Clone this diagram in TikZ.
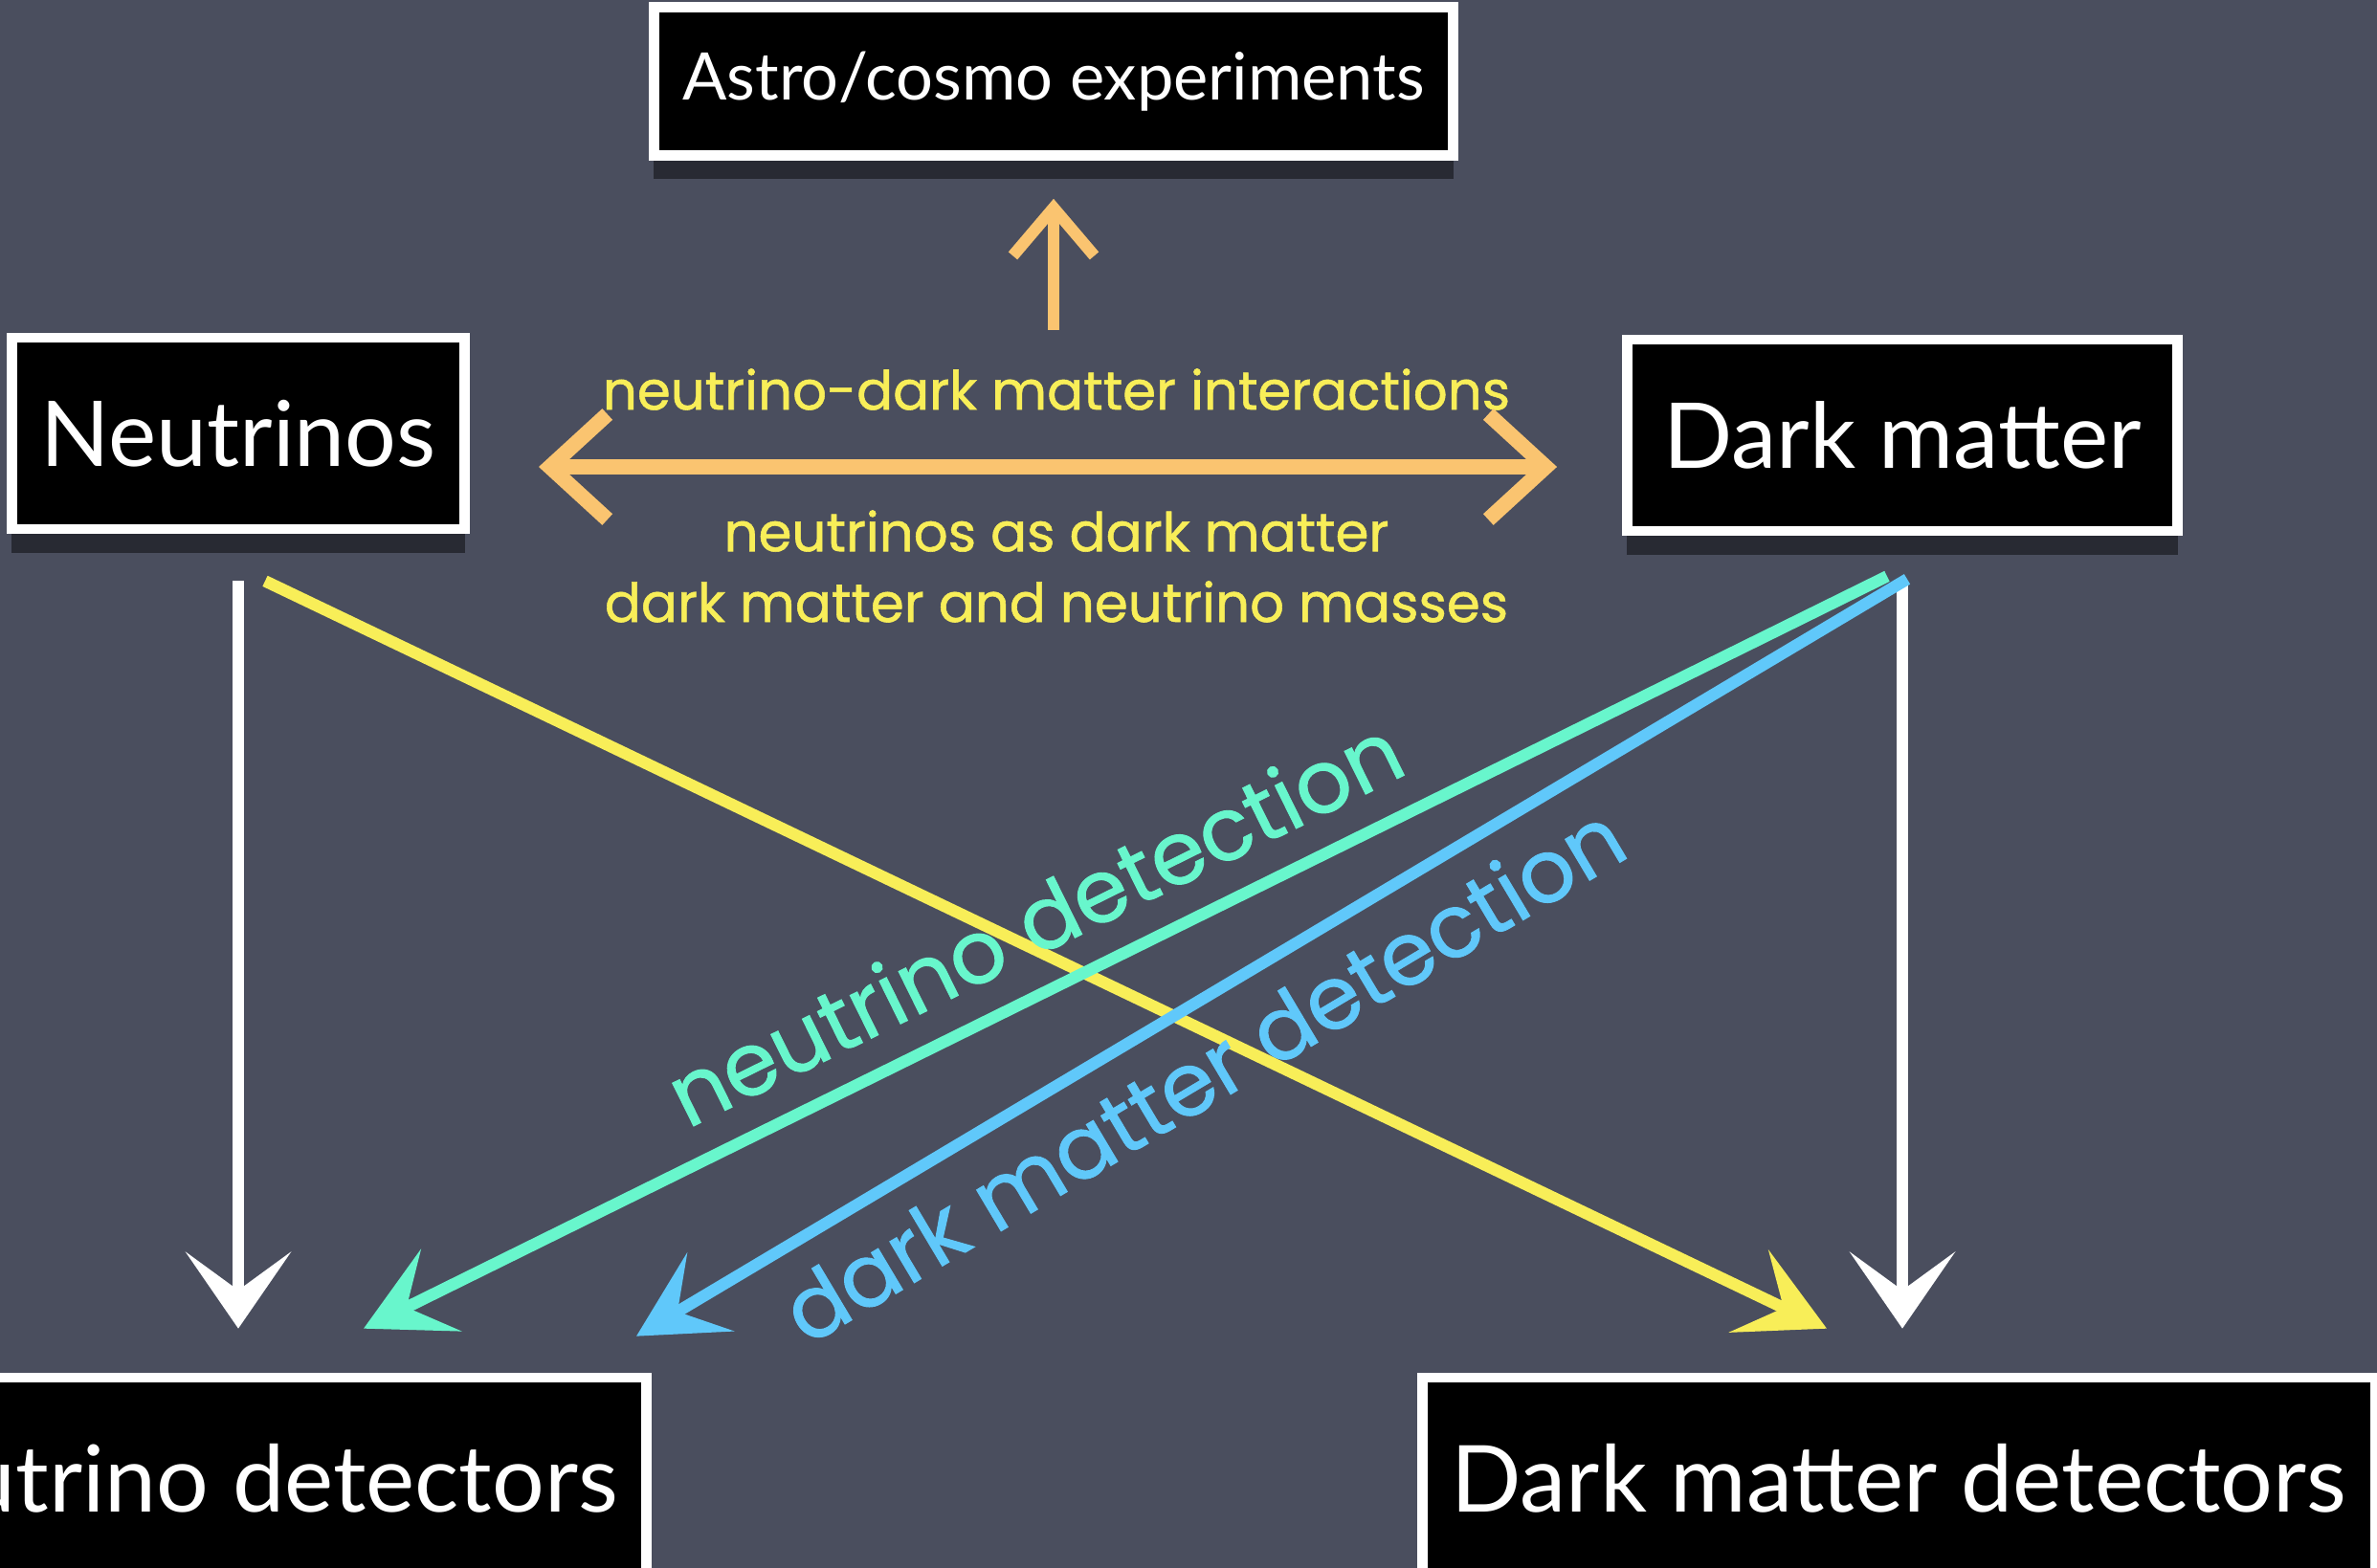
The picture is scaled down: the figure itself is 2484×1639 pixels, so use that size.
\documentclass[tikz,border=0pt]{standalone}
\usepackage{fontspec}
\usepackage{tikz}
\usetikzlibrary{arrows.meta,positioning,calc,shadows}
\newfontfamily\boxfont{Lato}
\newfontfamily\chalkfont[FakeBold=1]{Poppins}
\definecolor{board}{RGB}{74,78,94}
\definecolor{chyel}{RGB}{248,238,88}
\definecolor{chora}{RGB}{250,196,112}
\definecolor{chgrn}{RGB}{104,246,204}
\definecolor{chblu}{RGB}{96,200,250}

\begin{document}
\begin{tikzpicture}[x=0.01cm,y=-0.01cm,
  bx/.style={draw=white,fill=black,line width=3pt,text=white,inner xsep=0.3cm,
    minimum height=2cm,font=\boxfont\fontsize{27}{30}\selectfont,
    drop shadow={shadow xshift=0pt,shadow yshift=-7pt,opacity=0.45,fill=black}},
  lab/.style={font=\chalkfont\fontsize{16}{21}\selectfont,text=chyel,align=center},
  det/.style={font=\chalkfont\fontsize{26}{29}\selectfont,inner sep=0pt},
  wtip/.style={-{Stealth[length=0.8cm,width=1.1cm,inset=0.4cm]}},
  ctip/.style={-{Stealth[length=0.9cm,width=0.95cm,inset=0.4cm]}}]
% --- board ---
\useasboundingbox (0,0) rectangle (2484,1639);
\clip (0,0) rectangle (2484,1639);
\fill[board] (0,0) rectangle (2484,1639);
% --- boxes ---
\node[bx,minimum height=1.55cm,minimum width=8.2cm,font=\boxfont\fontsize{19.5}{23}\selectfont] (astro) at (1101,85) {Astro/cosmo experiments};
\node[bx,minimum width=4.7cm] (nu) at (249,453) {Neutrinos};
\node[bx,minimum width=5.75cm] (dm) at (1988,455) {Dark matter};
\node[bx,anchor=east,minimum height=2.1cm,font=\boxfont\fontsize{27.5}{31}\selectfont] (nudet) at (681,1545) {Neutrino detectors};
\node[bx,anchor=west,minimum height=2.1cm,font=\boxfont\fontsize{27.5}{31}\selectfont] (dmdet) at (1481,1545) {Dark matter detectors};
% --- yellow labels between the two sectors ---
\node[lab] (inter) at (1104,407) {neutrino-dark matter interactions};
\node[lab] (links) at (1104,592) {neutrinos as dark matter\\dark matter and neutrino masses};
% --- orange arrows ---
\draw[chora,line width=4.5pt,{Straight Barb[length=0.6cm,width=1.1cm]}-{Straight Barb[length=0.6cm,width=1.1cm]}]
  ($(nu.east)+(72,35)$) -- ($(dm.west)+(-68,33)$);
\draw[chora,line width=3.5pt,-{Straight Barb[length=0.5cm,width=0.85cm]}]
  ($(inter.north -| astro.south)+(0,-28)$) -- ($(astro.south)+(0,40)$);
% --- white arrows ---
\draw[white,line width=3.5pt,wtip] ($(nu.south)+(0,49)$) -- ($(nu.south |- nudet.north)+(0,-46)$);
\draw[white,line width=3.5pt,wtip] ($(dm.south)+(0,47)$) -- ($(dm.south |- dmdet.north)+(0,-46)$);
% --- crossing arrows ---
\draw[chyel,line width=3.5pt,ctip] ($(nu.south)+(28,49)$) -- ($(dmdet.north west)+(428,-46)$);
\draw[chgrn,line width=3.5pt,ctip] ($(dm.south)+(-16,42)$) --
  node[det,text=chgrn,sloped,above=0.3cm,pos=0.54] {neutrino detection}
  ($(nudet.north east)+(-301,-46)$);
\draw[chblu,line width=3.5pt,ctip] ($(dm.south)+(5,45)$) --
  node[det,text=chblu,sloped,below=0.25cm,pos=0.58] {dark matter detection}
  ($(nudet.north east)+(-16,-38)$);
\end{tikzpicture}
\end{document}
